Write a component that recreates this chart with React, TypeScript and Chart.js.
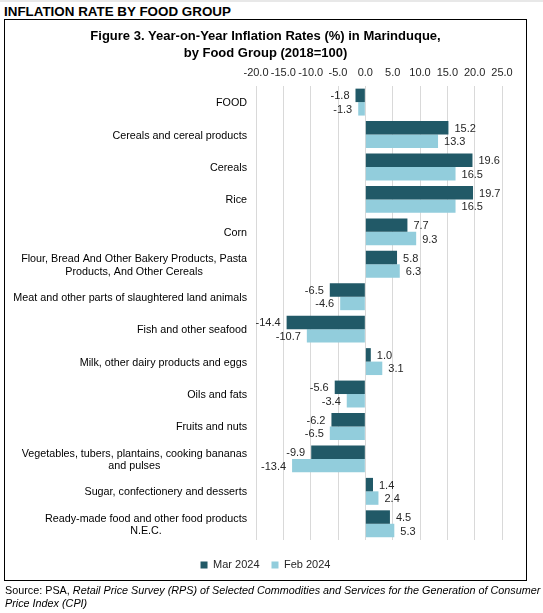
import React, { useEffect, useRef } from "react";
import { Chart, registerables } from "chart.js";

Chart.register(...registerables);

const FONT = "'Liberation Sans', Arial, sans-serif";

const titleLines = [
  "Figure 3. Year-on-Year Inflation Rates (%) in Marinduque,",
  "by Food Group (2018=100)",
];

const categories: string[][] = [
  ["FOOD"],
  ["Cereals and cereal products"],
  ["Cereals"],
  ["Rice"],
  ["Corn"],
  ["Flour, Bread And Other Bakery Products, Pasta", "Products, And Other Cereals"],
  ["Meat and other parts of slaughtered land animals"],
  ["Fish and other seafood"],
  ["Milk, other dairy products and eggs"],
  ["Oils and fats"],
  ["Fruits and nuts"],
  ["Vegetables, tubers, plantains, cooking bananas", "and pulses"],
  ["Sugar, confectionery and desserts"],
  ["Ready-made food and other food products", "N.E.C."],
];

const mar2024 = [-1.8, 15.2, 19.6, 19.7, 7.7, 5.8, -6.5, -14.4, 1.0, -5.6, -6.2, -9.9, 1.4, 4.5];
const feb2024 = [-1.3, 13.3, 16.5, 16.5, 9.3, 6.3, -4.6, -10.7, 3.1, -3.4, -6.5, -13.4, 2.4, 5.3];

const xTicks = [-20, -15, -10, -5, 0, 5, 10, 15, 20, 25];

const seriesNames = ["Mar 2024", "Feb 2024"];
const seriesColors = ["#215967", "#92CDDC"];

const valueLabelPlugin = {
  id: "valueLabels",
  afterDatasetsDraw(chart: any) {
    const ctx = chart.ctx;
    ctx.save();
    ctx.font = `11px ${FONT}`;
    ctx.fillStyle = "#262626";
    ctx.textBaseline = "middle";
    chart.data.datasets.forEach((ds: any, di: number) => {
      const meta = chart.getDatasetMeta(di);
      meta.data.forEach((el: any, i: number) => {
        const v = ds.data[i] as number;
        const txt = v.toFixed(1);
        if (v >= 0) {
          ctx.textAlign = "left";
          ctx.fillText(txt, el.x + 6, el.y + 1);
        } else {
          ctx.textAlign = "right";
          ctx.fillText(txt, el.x - 6, el.y + 1);
        }
      });
    });
    ctx.restore();
  },
};

const categoryLabelPlugin = {
  id: "categoryLabels",
  afterDraw(chart: any) {
    const ctx = chart.ctx;
    const scale = chart.scales.y;
    const right = chart.chartArea.left - 9;
    const lineH = 12.5;
    ctx.save();
    ctx.font = `10.75px ${FONT}`;
    ctx.fillStyle = "#000";
    ctx.textBaseline = "middle";
    ctx.textAlign = "center";
    categories.forEach((lines, i) => {
      const yPix = scale.getPixelForValue(i);
      const widest = Math.max(...lines.map((l) => ctx.measureText(l).width));
      const cx = right - widest / 2;
      lines.forEach((l, j) => {
        const y = yPix + 1 + (j - (lines.length - 1) / 2) * lineH;
        ctx.fillText(l, cx, y);
      });
    });
    ctx.restore();
  },
};

const legendShiftPlugin = {
  id: "legendShift",
  afterLayout(chart: any) {
    const lg = chart.legend;
    if (lg) {
      lg.top += 7.5;
      lg.bottom += 7.5;
    }
  },
};

export default function App() {
  const canvasRef = useRef<HTMLCanvasElement | null>(null);

  useEffect(() => {
    document.body.style.margin = "0";
    const canvas = canvasRef.current;
    if (!canvas) return;
    const chart = new Chart(canvas, {
      type: "bar",
      data: {
        labels: categories.map((c) => c.join(" ")),
        datasets: [
          {
            label: seriesNames[0],
            data: mar2024,
            backgroundColor: seriesColors[0],
            borderWidth: 0,
            barPercentage: 1,
            categoryPercentage: 0.83,
          },
          {
            label: seriesNames[1],
            data: feb2024,
            backgroundColor: seriesColors[1],
            borderWidth: 0,
            barPercentage: 1,
            categoryPercentage: 0.83,
          },
        ],
      },
      options: {
        indexAxis: "y",
        responsive: false,
        animation: false,
        layout: { padding: { top: 27, left: 29, right: 41, bottom: 40 } },
        plugins: {
          title: {
            display: true,
            text: titleLines,
            color: "#000",
            font: { family: FONT, size: 13, weight: "bold", lineHeight: 1.38 },
            padding: { top: 0, bottom: 0 },
          },
          legend: {
            position: "bottom",
            labels: {
              boxWidth: 7,
              boxHeight: 7,
              padding: 12,
              color: "#262626",
              font: { family: FONT, size: 11 },
            },
          },
          tooltip: { enabled: false },
        },
        scales: {
          x: {
            position: "top",
            min: -20,
            max: 25,
            afterBuildTicks: (s: any) => {
              s.ticks = xTicks.map((v) => ({ value: v }));
            },
            afterFit: (s: any) => {
              s.height = 23;
            },
            ticks: {
              padding: 6,
              maxRotation: 0,
              minRotation: 0,
              autoSkip: false,
              color: "#262626",
              font: { family: FONT, size: 11 },
              callback: (v: any) => Number(v).toFixed(1),
            },
            grid: { color: "#d9d9d9", lineWidth: 1, drawTicks: false },
            border: { display: false },
          },
          y: {
            afterFit: (s: any) => {
              s.width = 227;
            },
            ticks: { display: false },
            grid: { display: false },
            border: { display: false },
          },
        },
      },
      plugins: [valueLabelPlugin, categoryLabelPlugin, legendShiftPlugin],
    } as any);
    return () => chart.destroy();
  }, []);

  return (
    <div style={{ position: "relative", width: 543, height: 613, background: "#fff", overflow: "hidden" }}>
      <div style={{ position: "absolute", left: 0, top: 0, width: 543, height: 2, background: "#e8e8e8" }} />
      <div
        style={{
          position: "absolute",
          left: 4,
          top: 4.3,
          fontFamily: FONT,
          fontWeight: "bold",
          fontSize: 13.4,
          lineHeight: "16px",
          color: "#000",
          whiteSpace: "nowrap",
        }}
      >
        INFLATION RATE BY FOOD GROUP
      </div>
      <div
        style={{
          position: "absolute",
          left: 4,
          top: 19,
          width: 523,
          height: 562,
          border: "1px solid #000",
          boxSizing: "border-box",
        }}
      />
      <canvas
        ref={canvasRef}
        width={543}
        height={613}
        style={{ position: "absolute", left: 0, top: 0, width: 543, height: 613 }}
      />
      <div
        style={{
          position: "absolute",
          left: 5,
          top: 583.6,
          fontFamily: FONT,
          fontSize: 10.8,
          lineHeight: "13px",
          color: "#000",
          whiteSpace: "nowrap",
        }}
      >
        Source: PSA,{" "}
        <i>Retail Price Survey (RPS) of Selected Commodities and Services for the Generation of Consumer</i>
        <br />
        <i>Price Index (CPI)</i>
      </div>
    </div>
  );
}
